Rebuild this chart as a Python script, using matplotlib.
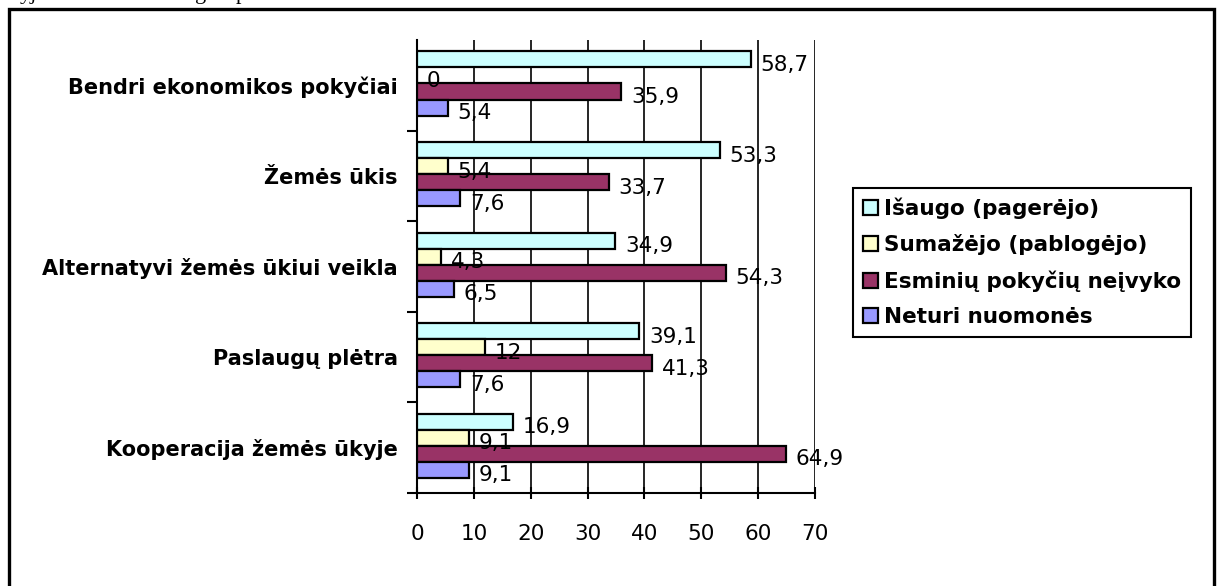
import numpy as np
import matplotlib
matplotlib.use("Agg")
import matplotlib.pyplot as plt
from matplotlib.patches import Rectangle

plt.rcParams['font.family'] = ['DejaVu Sans']

categories = ['Bendri ekonomikos pokyčiai', 'Žemės ūkis', 'Alternatyvi žemės ūkiui veikla',
              'Paslaugų plėtra', 'Kooperacija žemės ūkyje']
series_names = ['Išaugo (pagerėjo)', 'Sumažėjo (pablogėjo)', 'Esminių pokyčių neįvyko', 'Neturi nuomonės']
isaugo = [58.7, 53.3, 34.9, 39.1, 16.9]
sumazejo = [0, 5.4, 4.3, 12, 9.1]
esminiu = [35.9, 33.7, 54.3, 41.3, 64.9]
neturi = [5.4, 7.6, 6.5, 7.6, 9.1]
colors = ['#CCFFFF', '#FFFFCC', '#993366', '#9999FF']
xticks = [0, 10, 20, 30, 40, 50, 60, 70]

W, H = 1222, 586
fig = plt.figure(figsize=(W / 100, H / 100), dpi=100)
ax = fig.add_axes([417 / W, 1 - 493 / H, (815 - 417) / W, (493 - 40) / H])

series = [isaugo, sumazejo, esminiu, neturi]
n = len(categories)
bh = 0.177
centers = np.arange(n)[::-1].astype(float)
for i, (vals, name, col) in enumerate(zip(series, series_names, colors)):
    y = centers + (1.5 - i) * bh + 0.02
    ax.barh(y, vals, height=bh, color=col, edgecolor='black', linewidth=1.6,
            label=name, zorder=3)
    for yy, v in zip(y, vals):
        txt = f'{v:g}'.replace('.', ',')
        ax.annotate(txt, (v, yy), xytext=(7, -4), textcoords='offset points',
                    ha='left', va='center', fontsize=15.5, zorder=4)

ax.set_xlim(0, 70)
ax.set_ylim(-0.5, n - 0.5)
ax.set_xticks(xticks)
ax.set_xticklabels([str(t) for t in xticks], fontsize=15.5)
ax.tick_params(axis='x', direction='inout', length=9, width=1.5, pad=18)
ax.xaxis.grid(True, color='black', linewidth=1.2, zorder=0)

ax.set_yticks(np.arange(n) - 0.5, minor=False)
ax.set_yticklabels([])
ax.set_yticks(centers, minor=True)
ax.set_yticklabels(categories, minor=True, fontsize=15, fontweight='bold')
ax.tick_params(axis='y', which='major', direction='out', length=7, width=1.5)
ax.tick_params(axis='y', which='minor', length=0, pad=14)

for s in ['top', 'right']:
    ax.spines[s].set_visible(False)
for s in ['left', 'bottom']:
    ax.spines[s].set_linewidth(1.5)

leg = fig.legend(loc='upper left', bbox_to_anchor=(853 / W, 1 - 188 / H),
                 prop={'weight': 'bold', 'size': 15.5}, frameon=True, fancybox=False,
                 framealpha=1, edgecolor='black', handlelength=0.7, handleheight=0.7,
                 handletextpad=0.3, borderpad=0.45, labelspacing=0.7, borderaxespad=0)
leg.get_frame().set_linewidth(1.5)

# outer frame of the chart object
fig.patches.append(Rectangle((8.5 / W, -0.1), (1213.5 - 8.5) / W, 1.1 - 8.5 / H,
                             transform=fig.transFigure, fill=False, edgecolor='black',
                             linewidth=2.4))

# bottom of the document line above the chart
for x, s in [(20, 'yj'), (195, 'g'), (236, 'p'), (372, 'e')]:
    fig.text(x / W, 1 + 0.5 / H, s, fontsize=16, family='Liberation Serif', va='baseline')

fig.savefig('out.png', dpi=100)
